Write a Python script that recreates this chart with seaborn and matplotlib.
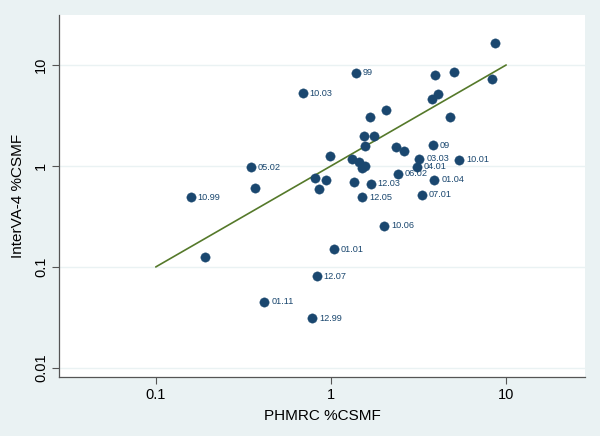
import numpy as np
import pandas as pd
import matplotlib
matplotlib.use("Agg")
import matplotlib.pyplot as plt
import seaborn as sns

# PHMRC %CSMF (x) and InterVA-4 %CSMF (y), with cause labels ("" = unlabeled)
phmrc = [8.6, 5.05, 3.93, 8.28, 1.39, 4.09, 3.79, 2.05, 4.79, 1.66,
         1.54, 1.75, 1.56, 3.83, 2.34, 2.61, 3.20, 5.41, 0.99, 1.31,
         1.45, 1.56, 1.50, 3.10, 2.41, 3.89, 1.36, 1.69, 3.31, 1.51,
         0.69, 0.35, 0.37, 0.158, 0.81, 0.94, 0.85, 0.191, 1.04, 0.83,
         0.416, 0.78, 2.02]
interva = [16.5, 8.47, 7.91, 7.22, 8.33, 5.13, 4.57, 3.56, 3.08, 3.08,
           2.00, 1.97, 1.59, 1.60, 1.55, 1.41, 1.18, 1.15, 1.26, 1.17,
           1.10, 1.00, 0.95, 0.98, 0.84, 0.73, 0.70, 0.67, 0.52, 0.49,
           5.25, 0.97, 0.61, 0.49, 0.76, 0.73, 0.59, 0.125, 0.15, 0.081,
           0.045, 0.031, 0.255]
labels = ["", "", "", "", "99", "", "", "", "", "",
          "", "", "", "09", "", "", "03.03", "10.01", "", "",
          "", "", "", "04.01", "06.02", "01.04", "", "12.03", "07.01", "12.05",
          "10.03", "05.02", "", "10.99", "", "", "", "", "01.01", "12.07",
          "01.11", "12.99", "10.06"]
line_x = [0.1, 10]
line_y = [0.1, 10]
x_ticks = [0.1, 1, 10]
x_ticklabels = ["0.1", "1", "10"]
y_ticks = [0.01, 0.1, 1, 10]
y_ticklabels = ["0.01", "0.1", "1", "10"]

df = pd.DataFrame({"phmrc": phmrc, "interva": interva, "label": labels})

sns.set_theme(style="white")
plt.rcParams["font.family"] = ["Liberation Sans", "DejaVu Sans"]

bg = "#EAF2F3"
navy = "#1A476F"
fig = plt.figure(figsize=(6, 4.36), dpi=100, facecolor=bg)
ax = fig.add_axes([0.099, 1 - 377 / 436, 0.876, (377 - 15) / 436])
ax.set_facecolor("white")

ax.set_xscale("log")
ax.set_yscale("log")

for yt in y_ticks:
    ax.axhline(yt, color=bg, lw=1.0, zorder=0)

sns.lineplot(x=line_x, y=line_y, ax=ax, color="#55792A", lw=1.2, zorder=2)
sns.scatterplot(data=df, x="phmrc", y="interva", ax=ax, color=navy,
                s=45, edgecolor=navy, linewidth=0.3, zorder=3, legend=False)

for _, r in df.iterrows():
    if r["label"]:
        ax.annotate(r["label"], (r["phmrc"], r["interva"]), xytext=(5, 0),
                    textcoords="offset points", va="center", ha="left",
                    fontsize=6.6, color=navy, zorder=4)

ax.set_xlim(10 ** -1.55, 10 ** 1.45)
ax.set_ylim(10 ** -2.09, 10 ** 1.495)
ax.set_xticks(x_ticks)
ax.set_xticklabels(x_ticklabels)
ax.set_yticks(y_ticks)
ax.set_yticklabels(y_ticklabels, rotation=90, va="center")
ax.minorticks_off()

ax.tick_params(axis="both", which="major", direction="out", length=5,
               width=0.8, color="#555555", labelsize=10.5, labelcolor="black",
               bottom=True, left=True, pad=3)

for side in ["top", "right"]:
    ax.spines[side].set_visible(False)
for side in ["left", "bottom"]:
    ax.spines[side].set_color("#555555")
    ax.spines[side].set_linewidth(0.9)

ax.set_xlabel("PHMRC %CSMF", fontsize=11, color="black", labelpad=5)
ax.set_ylabel("InterVA-4 %CSMF", fontsize=11, color="black", labelpad=7)

fig.savefig("out.png", dpi=100, facecolor=bg)
